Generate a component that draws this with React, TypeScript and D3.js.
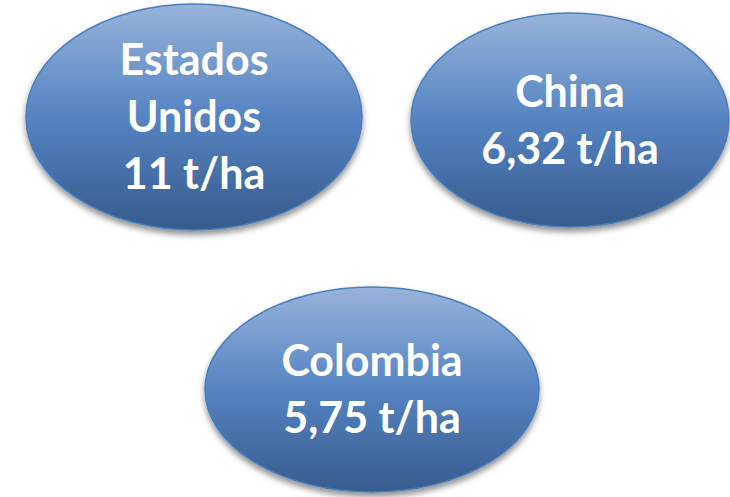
import { useEffect, useRef } from 'react';
import * as d3 from 'd3';

// rendimiento por país
const nameLines: string[][] = [['Estados', 'Unidos'], ['China'], ['Colombia']];
const yields: number[] = [11, 6.32, 5.75];
const unit = 't/ha';

// layout of each bubble (centre and radii, px)
const bubbles = [
  { cx: 194, cy: 117, rx: 168, ry: 113 },
  { cx: 570, cy: 120, rx: 159, ry: 107 },
  { cx: 372, cy: 389.5, rx: 167, ry: 102.5 },
];

const W = 730;
const H = 497;

const fmt = (v: number) => (Number.isInteger(v) ? String(v) : v.toFixed(2).replace('.', ','));

export default function App() {
  const ref = useRef<SVGSVGElement>(null);

  useEffect(() => {
    const svg = d3.select(ref.current);
    svg.selectAll('*').remove();

    const defs = svg.append('defs');
    const grad = defs.append('linearGradient')
      .attr('id', 'fillGrad')
      .attr('x1', 0).attr('y1', 0).attr('x2', 0).attr('y2', 1);
    grad.append('stop').attr('offset', '0%').attr('stop-color', '#97b3da');
    grad.append('stop').attr('offset', '50%').attr('stop-color', '#5583c2');
    grad.append('stop').attr('offset', '100%').attr('stop-color', '#375b8d');

    const shadow = defs.append('filter')
      .attr('id', 'shadow')
      .attr('x', '-20%').attr('y', '-20%').attr('width', '140%').attr('height', '150%');
    shadow.append('feGaussianBlur').attr('in', 'SourceAlpha').attr('stdDeviation', 3);
    shadow.append('feOffset').attr('dx', 0).attr('dy', 4).attr('result', 'off');
    shadow.append('feComponentTransfer').append('feFuncA').attr('type', 'linear').attr('slope', 0.45);
    const merge = shadow.append('feMerge');
    merge.append('feMergeNode');
    merge.append('feMergeNode').attr('in', 'SourceGraphic');

    const lineH = 57;
    const capHalf = 15;

    const g = svg.selectAll('g.bubble')
      .data(nameLines.map((lines, i) => ({ lines: [...lines, `${fmt(yields[i])} ${unit}`], ...bubbles[i] })))
      .enter()
      .append('g')
      .attr('class', 'bubble');

    g.append('ellipse')
      .attr('cx', (d) => d.cx)
      .attr('cy', (d) => d.cy)
      .attr('rx', (d) => d.rx)
      .attr('ry', (d) => d.ry)
      .attr('fill', 'url(#fillGrad)')
      .attr('stroke', '#4a7ebb')
      .attr('stroke-width', 1.5)
      .attr('filter', 'url(#shadow)');

    g.each(function (d) {
      const first = d.cy - ((d.lines.length - 1) * lineH) / 2 + capHalf;
      d3.select(this)
        .selectAll('text')
        .data(d.lines)
        .enter()
        .append('text')
        .attr('x', d.cx)
        .attr('y', (_, j) => first + j * lineH)
        .attr('text-anchor', 'middle')
        .attr('fill', '#ffffff')
        .style('font-family', 'Lato, "Open Sans", sans-serif')
        .style('font-weight', 700)
        .style('font-size', '43px')
        .text((t) => t);
    });
  }, []);

  return (
    <svg
      ref={ref}
      width={W}
      height={H}
      style={{ position: 'absolute', left: 0, top: 0, background: '#ffffff' }}
    />
  );
}
